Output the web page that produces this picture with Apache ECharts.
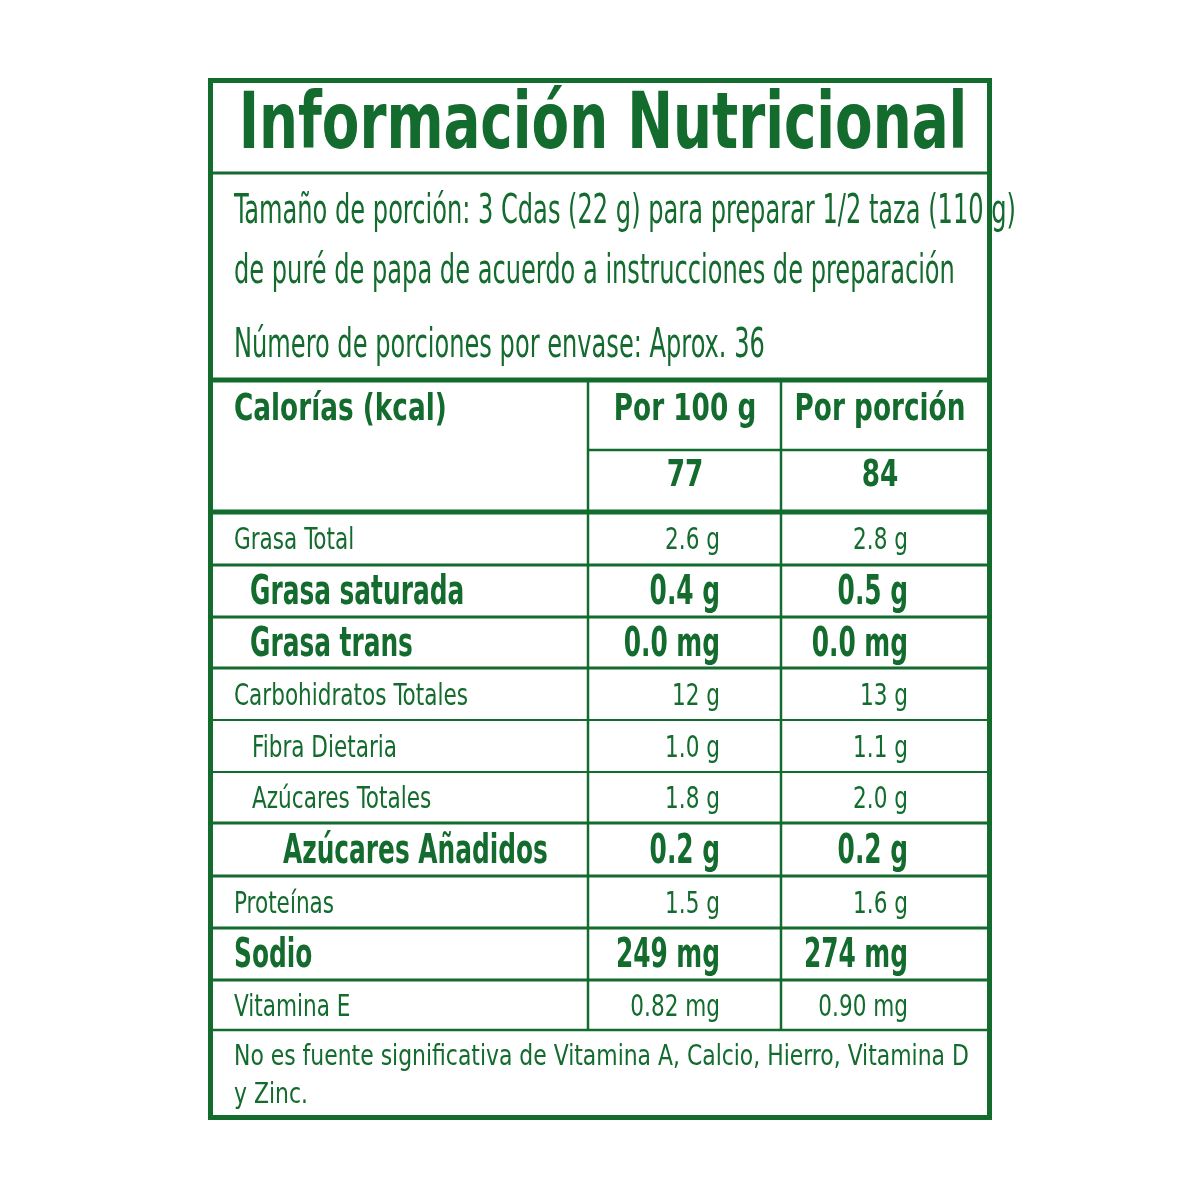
<!DOCTYPE html>
<html><head><meta charset="utf-8">
<script src="https://cdn.jsdelivr.net/npm/echarts@6/dist/echarts.min.js"></script>
<style>html,body{margin:0;padding:0;background:#fff}#c{width:1200px;height:1200px}</style>
</head><body><div id="c"></div>
<script>
const title = "Información Nutricional";
const servingLines = ["Tamaño de porción: 3 Cdas (22 g) para preparar 1/2 taza (110 g)", "de puré de papa de acuerdo a instrucciones de preparación", "Número de porciones por envase: Aprox. 36"];
const headers = ["Calorías (kcal)", "Por 100 g", "Por porción"];
const calories = ["77", "84"];
const nutrients = ["Grasa Total","Grasa saturada","Grasa trans","Carbohidratos Totales","Fibra Dietaria","Azúcares Totales","Azúcares Añadidos","Proteínas","Sodio","Vitamina E"];
const per100 = ["2.6 g","0.4 g","0.0 mg","12 g","1.0 g","1.8 g","0.2 g","1.5 g","249 mg","0.82 mg"];
const perPortion = ["2.8 g","0.5 g","0.0 mg","13 g","1.1 g","2.0 g","0.2 g","1.6 g","274 mg","0.90 mg"];
const boldRow = [false,true,true,false,false,false,true,false,true,false];
const indent = [0,16,16,0,18,18,49,0,0,0];
const footer = ["No es fuente significativa de Vitamina A, Calcio, Hierro, Vitamina D","y Zinc."];

const G = "#136b2e";
const F = '"DejaVu Sans Condensed","Roboto",sans-serif';
const els = [];
function line(x1,y1,x2,y2,w){els.push({type:'line',shape:{x1,y1,x2,y2},style:{stroke:G,lineWidth:w}});}
function text(t,x,y,size,bold,align,sx){els.push({type:'text',x,y,scaleX:sx,style:{text:t,fill:G,font:(bold?'bold ':'')+size+'px '+F,textAlign:align||'left',textVerticalAlign:'middle'}});}

els.push({type:'rect',shape:{x:210.5,y:80.5,width:779,height:1037},style:{fill:'none',stroke:G,lineWidth:5}});
text(title,603,128,78,true,'center',0.78);
line(211,173,989,173,3);
text(servingLines[0],234,213,40,false,'left',0.67);
text(servingLines[1],234,273,40,false,'left',0.67);
text(servingLines[2],234,347,40,false,'left',0.67);
line(211,380,989,380,5);
text(headers[0],234,410,38,true,'left',0.77);
text(headers[1],685,410,38,true,'center',0.77);
text(headers[2],880,410,38,true,'center',0.77);
line(588,380,588,512,2.5);
line(781,380,781,512,2.5);
line(588,450,989,450,2.5);
text(calories[0],685,476,38,true,'center',0.77);
text(calories[1],880,476,38,true,'center',0.77);
line(211,512,989,512,5);

const bounds=[512,565,617,668,720,772,823,876,928,980,1030];
for(let i=0;i<nutrients.length;i++){
  const y0=bounds[i],y1=bounds[i+1],cy=(y0+y1)/2+3;
  const b=boldRow[i], sz=b?40:30, sx=b?0.69:0.8;
  text(nutrients[i],234+indent[i],cy,sz,b,'left',sx);
  text(per100[i],720,cy,sz,b,'right',sx);
  text(perPortion[i],908,cy,sz,b,'right',sx);
  line(588,y0,588,y1,2.5);
  line(781,y0,781,y1,2.5);
  if(i>0) line(211,y0,989,y0,(b||boldRow[i-1])?3:2);
}
line(211,1030,989,1030,2.5);
text(footer[0],234,1058,28,false,'left',0.87);
text(footer[1],234,1096,28,false,'left',0.87);

const chart=echarts.init(document.getElementById('c'));
chart.setOption({animation:false,graphic:els});
</script></body></html>
